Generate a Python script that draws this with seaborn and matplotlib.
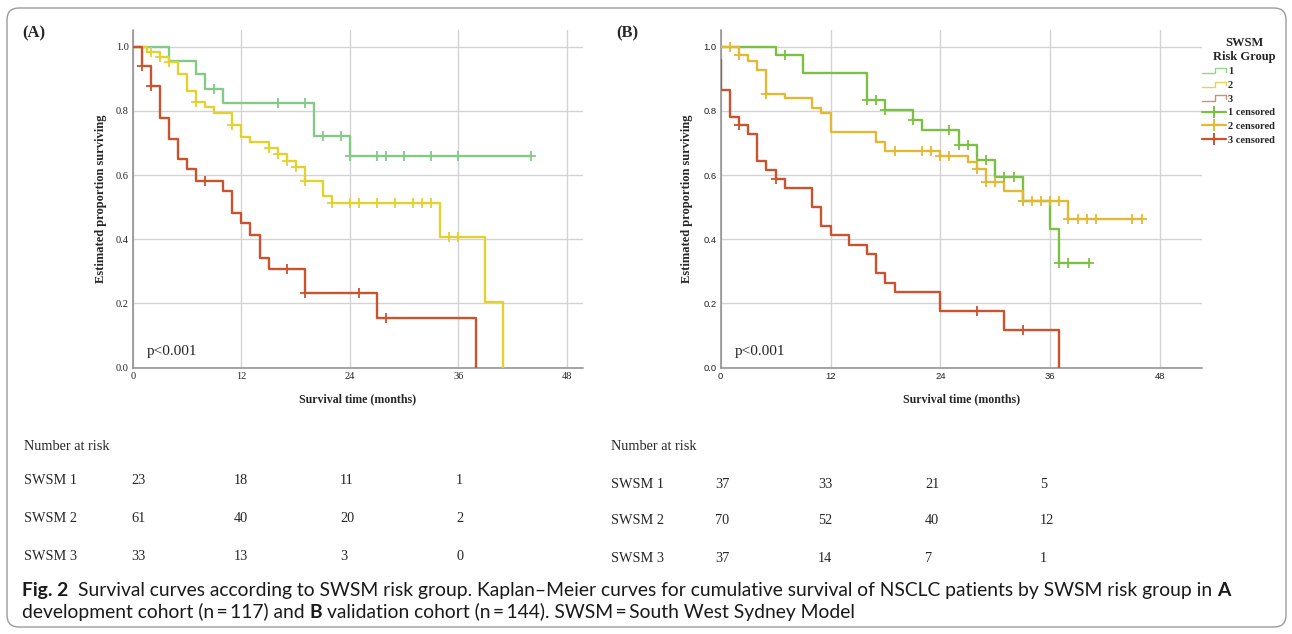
import numpy as np
import pandas as pd
import seaborn as sns
import matplotlib
matplotlib.use('agg')
import matplotlib.pyplot as plt
from matplotlib import font_manager
from matplotlib.lines import Line2D
from matplotlib.legend_handler import HandlerBase
from matplotlib.patches import FancyBboxPatch
from matplotlib.transforms import IdentityTransform

W, H = 1292, 634

# ============== data ==============
# (A) development cohort: step times (months) and survival after each step
a1_times = [0, 4.0, 7.0, 8.0, 10.0, 20.0, 24.0]
a1_surv = [1.0, 0.955, 0.914, 0.869, 0.824, 0.721, 0.660]
a1_end = 44.0
a1_cens = [9.0, 16.0, 19.0, 21.0, 23.0, 24.0, 27.0, 28.0, 30.0, 33.0, 36.0, 44.0]

a2_times = [0, 1.5, 3.0, 4.0, 5.0, 6.0, 7.0, 8.0, 9.0, 11.0, 12.0, 13.0, 15.0, 16.0,
            17.0, 18.0, 19.0, 21.0, 22.0, 34.0, 39.0, 41.0]
a2_surv = [1.0, 0.983, 0.967, 0.951, 0.915, 0.863, 0.829, 0.811, 0.792, 0.756, 0.720,
           0.702, 0.683, 0.665, 0.645, 0.626, 0.581, 0.536, 0.512, 0.408, 0.204, 0.0]
a2_end = None
a2_cens = [2.0, 3.0, 4.0, 7.0, 11.0, 15.0, 16.0, 17.0, 18.0, 19.0, 22.0, 24.0, 25.0,
           27.0, 29.0, 31.0, 32.0, 33.0, 35.0, 36.0]

a3_times = [0, 1.0, 2.0, 3.0, 4.0, 5.0, 6.0, 7.0, 10.0, 11.0, 12.0, 13.0, 14.0, 15.0,
            19.0, 27.0, 38.0]
a3_surv = [1.0, 0.940, 0.877, 0.779, 0.714, 0.649, 0.618, 0.583, 0.550, 0.483, 0.450,
           0.413, 0.343, 0.309, 0.232, 0.154, 0.0]
a3_end = None
a3_cens = [1.0, 2.0, 8.0, 17.0, 19.0, 25.0, 28.0]

# (B) validation cohort
b1_times = [0, 6.0, 9.0, 16.0, 18.0, 21.0, 22.0, 26.0, 28.0, 30.0, 33.0, 36.0, 37.0]
b1_surv = [1.0, 0.974, 0.918, 0.834, 0.804, 0.773, 0.739, 0.695, 0.648, 0.593, 0.518,
           0.432, 0.326]
b1_end = 40.3
b1_cens = [7.0, 16.0, 17.0, 18.0, 21.0, 25.0, 26.0, 27.0, 29.0, 31.0, 32.0, 33.0,
           37.0, 38.0, 40.3]

b2_times = [0, 2.0, 3.0, 4.0, 5.0, 7.0, 10.0, 11.0, 12.0, 17.0, 18.0, 24.0, 27.0, 28.0,
            29.0, 31.0, 33.0, 38.0]
b2_surv = [1.0, 0.973, 0.955, 0.927, 0.854, 0.839, 0.809, 0.794, 0.735, 0.703, 0.674,
           0.658, 0.640, 0.619, 0.579, 0.552, 0.520, 0.463]
b2_end = 46.0
b2_cens = [1.0, 2.0, 5.0, 19.0, 22.0, 23.0, 24.0, 25.0, 28.0, 29.0, 30.0, 33.0, 34.0,
           35.0, 36.0, 37.0, 38.0, 39.0, 40.0, 41.0, 45.0, 46.0]

b3_times = [0, 0, 1.0, 2.0, 3.0, 4.0, 5.0, 6.0, 7.0, 10.0, 11.0, 12.0, 14.0, 16.0, 17.0,
            18.0, 19.0, 24.0, 31.0, 37.0]
b3_surv = [0.96, 0.865, 0.781, 0.755, 0.729, 0.645, 0.617, 0.589, 0.560, 0.500, 0.442,
           0.412, 0.383, 0.354, 0.294, 0.265, 0.236, 0.177, 0.118, 0.0]
b3_end = None
b3_cens = [2.0, 6.0, 28.0, 33.0]

# number at risk tables
risk_groups = ['SWSM 1', 'SWSM 2', 'SWSM 3']
risk_a = [[23, 18, 11, 1], [61, 40, 20, 2], [33, 13, 3, 0]]
risk_b = [[37, 33, 21, 5], [70, 52, 40, 12], [37, 14, 7, 1]]

x_ticks = [0, 12, 24, 36, 48]
y_ticks = [0.0, 0.2, 0.4, 0.6, 0.8, 1.0]
legend_labels = ['1', '2', '3', '1 censored', '2 censored', '3 censored']

colors_a = ['#84c987', '#e2d22f', '#c9532f']
colors_b = ['#7cc043', '#e2b834', '#c9532f']
legend_line_colors = ['#98d48f', '#ead05a', '#da8a70']

# ============== fonts ==============
available = {f.name for f in font_manager.fontManager.ttflist}
SERIF = 'Liberation Serif'
cap_family = next(f for f in ['Liberation Sans Narrow', 'Lato', 'Open Sans', 'DejaVu Sans']
                  if f in available)


def px(x, y):
    return x / W, 1 - y / H


def km_frame(times, surv, end):
    x = list(times)
    y = list(surv)
    if end is not None:
        x.append(end)
        y.append(surv[-1])
    return pd.DataFrame({'month': x, 'surv': y})


def censor_frame(times, surv, cens):
    t = np.asarray(times)
    s = np.asarray(surv)
    idx = np.searchsorted(t, cens, side='right') - 1
    return pd.DataFrame({'month': cens, 'surv': s[idx]})


def draw_panel(ax, curves, colors, xmax, tick_family, tick_size):
    for (times, surv, end, cens), color in zip(curves, colors):
        sns.lineplot(data=km_frame(times, surv, end), x='month', y='surv', ax=ax,
                     estimator=None, sort=False, drawstyle='steps-post',
                     color=color, lw=1.7, zorder=3)
        sns.scatterplot(data=censor_frame(times, surv, cens), x='month', y='surv',
                        ax=ax, marker='+', s=55, color=color, linewidth=1.3, zorder=4)
    ax.set_xlim(0, xmax)
    ax.set_ylim(0, 1.052)
    ax.set_xticks(x_ticks)
    ax.set_yticks(y_ticks)
    ax.set_yticklabels([f'{v:.1f}' for v in y_ticks])
    ax.grid(True, color='#d3d3d3', lw=1)
    ax.set_axisbelow(True)
    for side in ['top', 'right']:
        ax.spines[side].set_visible(False)
    for side in ['left', 'bottom']:
        ax.spines[side].set_color('#8c8c8c')
        ax.spines[side].set_linewidth(1.1)
    ax.tick_params(length=0, pad=3, labelsize=tick_size, colors='#222222')
    for lab in ax.get_xticklabels() + ax.get_yticklabels():
        lab.set_family(tick_family)
    ax.set_xlabel('Survival time (months)', family=SERIF, weight='bold', fontsize=8.6)
    ax.set_ylabel('Estimated proportion surviving', family=SERIF, weight='bold',
                  fontsize=9)


class StepHandler(HandlerBase):
    def create_artists(self, legend, orig, xd, yd, width, height, fontsize, trans):
        xs = [-xd, -xd + width * 0.55, -xd + width * 0.55, -xd + width, -xd + width]
        ys = [height * 0.15, height * 0.15, height * 0.85, height * 0.85, height * 0.35]
        line = Line2D(xs, ys, color=orig.get_color(), lw=1.0, transform=trans)
        return [line]


sns.set_theme(style='white')
fig = plt.figure(figsize=(W / 100, H / 100), dpi=100)

ax_a = fig.add_axes([133 / W, 1 - 367.7 / H, 450 / W, 337.7 / H])
ax_b = fig.add_axes([720.7 / W, 1 - 367.7 / H, 481.3 / W, 337.7 / H])

draw_panel(ax_a, [(a1_times, a1_surv, a1_end, a1_cens),
                  (a2_times, a2_surv, a2_end, a2_cens),
                  (a3_times, a3_surv, a3_end, a3_cens)],
           colors_a, 49.8, SERIF, 7.5)
draw_panel(ax_b, [(b1_times, b1_surv, b1_end, b1_cens),
                  (b2_times, b2_surv, b2_end, b2_cens),
                  (b3_times, b3_surv, b3_end, b3_cens)],
           colors_b, 52.6, 'Liberation Sans', 6.8)

ax_a.xaxis.set_label_coords(0.5, -0.076)
ax_b.xaxis.set_label_coords(0.5, -0.076)
ax_a.yaxis.set_label_coords(-0.058, 0.5)
ax_b.yaxis.set_label_coords(-0.057, 0.5)

# panel letters and p values
fig.text(*px(22, 33), '(A)', family=SERIF, weight='bold', fontsize=12, va='center')
fig.text(*px(616, 33), '(B)', family=SERIF, weight='bold', fontsize=12, va='center')
fig.text(*px(147, 352), 'p<0.001', family=SERIF, fontsize=11, va='center')
fig.text(*px(735, 352), 'p<0.001', family=SERIF, fontsize=11, va='center')

# legend for panel B
fig.text(*px(1244, 50), 'SWSM\nRisk Group', family=SERIF, weight='bold', fontsize=9,
         ha='center', va='center', multialignment='center', linespacing=1.2)
handles = [Line2D([], [], color=c) for c in legend_line_colors]
handles += [Line2D([], [], color=c, lw=1.6, marker='+', markersize=8, mew=1.4)
            for c in colors_b]
leg = fig.legend(handles, legend_labels, loc='upper left',
                 bbox_to_anchor=px(1202, 67), frameon=False,
                 prop={'family': SERIF, 'weight': 'bold', 'size': 7.5},
                 handlelength=2.3, handletextpad=0.2, labelspacing=0.42,
                 borderaxespad=0, borderpad=0,
                 handler_map={h: StepHandler() for h in handles[:3]})

# number at risk tables
RISK_SIZE = 10.3


def risk_table(x0, xs, ys, counts):
    fig.text(*px(x0, ys[0]), 'Number at risk', family=SERIF, fontsize=RISK_SIZE,
             va='center')
    for row, (name, vals) in enumerate(zip(risk_groups, counts)):
        y = ys[row + 1]
        fig.text(*px(x0, y), name, family=SERIF, fontsize=RISK_SIZE, va='center')
        for xv, v in zip(xs, vals):
            fig.text(*px(xv, y), str(v), family=SERIF, fontsize=RISK_SIZE, va='center')


risk_table(24, [131, 234, 340, 456], [447, 481, 519, 556], risk_a)
risk_table(611, [715, 818, 925, 1040], [446, 485, 521, 558], risk_b)

# caption, written run by run
renderer = fig.canvas.get_renderer()
CAP_FAMILY = [cap_family, 'DejaVu Sans']

line1 = [('Fig. 2', 'bold', 2),
         ('Survival curves according to SWSM risk group. Kaplan\u2013Meier curves '
          'for cumulative survival of NSCLC patients by SWSM risk group in',
          'normal', 1),
         ('A', 'bold', 0)]
line2 = [('development cohort (n\u2009=\u2009117) and', 'normal', 1),
         ('B', 'bold', 1),
         ('validation cohort (n\u2009=\u2009144). SWSM\u2009=\u2009South West '
          'Sydney Model', 'normal', 0)]


def text_width(s, weight, size):
    t = fig.text(0, 0, s, family=CAP_FAMILY, fontsize=size, weight=weight)
    w = t.get_window_extent(renderer).width
    t.remove()
    return w


def line_width(runs, size):
    sp = text_width('a a', 'normal', size) - text_width('aa', 'normal', size)
    return sum(text_width(s, wt, size) + g * sp for s, wt, g in runs)


# fit the first caption line to the width it has in the reference (x 22 .. 1232)
CAP = 13 * 1210 / line_width(line1, 13)
space = text_width('a a', 'normal', CAP) - text_width('aa', 'normal', CAP)


def caption_line(runs, x, y):
    for s, weight, gap in runs:
        t = fig.text(*px(x, y), s, family=CAP_FAMILY, fontsize=CAP,
                     weight=weight, va='baseline', color='#1a1a1a')
        x += t.get_window_extent(renderer).width + gap * space


caption_line(line1, 22, 596)
caption_line(line2, 22, 618)

# rounded outer frame
frame = FancyBboxPatch((7, 7), 1279, 619, boxstyle='round,pad=0,rounding_size=12',
                       transform=IdentityTransform(), fill=False, ec='#9b9b9b', lw=1.0)
fig.add_artist(frame)

fig.savefig('out.png', dpi=100)
